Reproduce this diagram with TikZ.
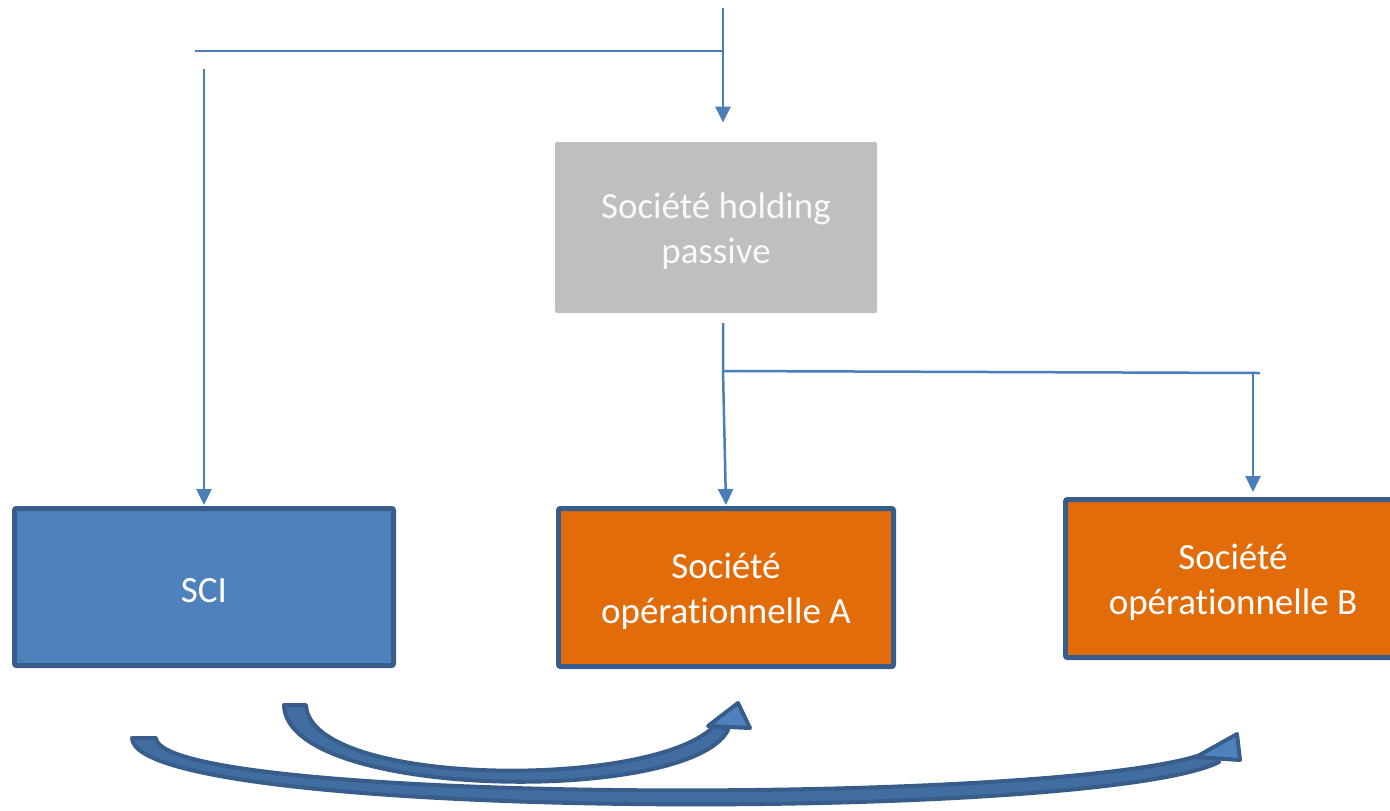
\documentclass[tikz,border=0pt]{standalone}
\usepackage{fontspec}
\setmainfont{Carlito}[Ligatures=NoCommon]
\usetikzlibrary{arrows.meta}
\definecolor{linkblue}{HTML}{4A7EBB}
\definecolor{boxblue}{HTML}{4F81BD}
\definecolor{edgeblue}{HTML}{385D8A}
\definecolor{opsorange}{HTML}{E36C0A}
\definecolor{holdgray}{HTML}{BFBFBF}
\tikzset{
  conn/.style={draw=linkblue, line width=1.25pt},
  connarrow/.style={conn, -{Triangle[width=7.5pt,length=8pt]}},
  entity/.style={rectangle, rounded corners=1pt, inner sep=0pt},
  caption/.style={text=white, align=center, inner sep=0pt,
    font=\fontsize{18.5}{22.5}\selectfont, yshift=-2pt},
  framed/.style={entity, draw=edgeblue, line width=2.5pt},
  bigshaft/.style={fill=boxblue!45!edgeblue, draw=edgeblue, line width=2pt, line join=round},
  bighead/.style={fill=boxblue, draw=edgeblue, line width=2pt, line join=round}
}
\begin{document}
\begin{tikzpicture}[x=0.5pt,y=-0.5pt]
\useasboundingbox (0,0) rectangle (1390,810);

% entities
\node[entity, fill=holdgray, minimum width=161pt, minimum height=85.5pt,
  label={[caption, text=white!95!gray]center:{Société holding\\passive}}]
  (holding) at (716,227.5) {};
\node[framed, fill=boxblue, minimum width=189.5pt, minimum height=78.5pt,
  label={[caption]center:SCI}]
  (sci) at (204,587) {};
\node[framed, fill=opsorange, minimum width=167.5pt, minimum height=79pt,
  label={[caption]center:{Société\\opérationnelle A}}]
  (opA) at (726,587.5) {};
\node[framed, fill=opsorange, minimum width=167.5pt, minimum height=79pt,
  label={[caption]center:{Société\\opérationnelle B}}]
  (opB) at (1233,578.5) {};

% ownership lines
\coordinate (top) at (723,8);
\coordinate (j1) at (723,51);
\coordinate (l1) at (195,51);
\coordinate (s0) at (204,69);
\coordinate (h0) at (723,323);
\coordinate (j2) at (723,371);
\coordinate (r2) at (1260,373);
\coordinate (b0) at (1253,373);

\draw[connarrow, shorten >=9.5pt] (top) -- (holding.north -| top);
\draw[conn] (l1) -- (j1);
\draw[connarrow, shorten >=0.5pt] (s0) -- (sci.north);
\draw[connarrow, shorten >=0.5pt] (h0) -- (j2) -- (opA.north);
\draw[conn] (j2) -- (r2);
\draw[connarrow, shorten >=2.5pt] (b0) -- (opB.north -| b0);

% curved block arrows from the SCI: tapered shaft, then head
\filldraw[bigshaft] (284,705) .. controls (286,800) and (690,805) .. (728,730)
  -- (716,724) .. controls (660,790) and (310,788) .. (306,705) -- cycle;
\filldraw[bighead] (738,703) -- (750,728) -- (708,726) -- cycle;

\filldraw[bigshaft] (132,738) .. controls (134,822) and (1100,822) .. (1219,762)
  -- (1211,751) .. controls (1090,806) and (160,805) .. (156,738) -- cycle;
\filldraw[bighead] (1237,734) -- (1240,760) -- (1196,757) -- cycle;
\end{tikzpicture}
\end{document}
